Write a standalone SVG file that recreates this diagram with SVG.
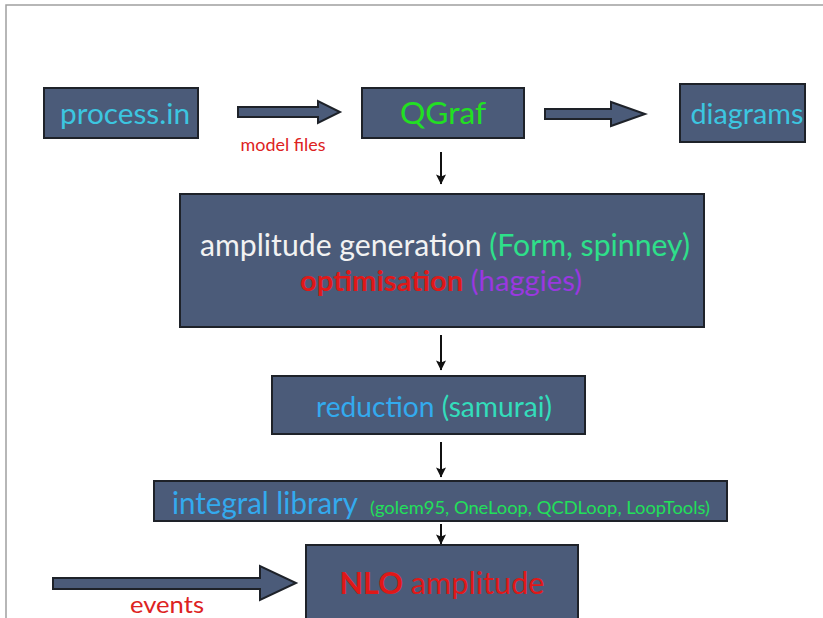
<svg xmlns="http://www.w3.org/2000/svg" width="823" height="618" viewBox="0 0 823 618">
<defs>
<style>
.box{fill:#4b5b79;stroke:#1e2229;stroke-width:2}
.blk{fill:#4b5b79;stroke:#1e2229;stroke-width:2;stroke-linejoin:miter}
.t{font-family:Lato,"Open Sans","DejaVu Sans",sans-serif}
.thin{stroke:#111;stroke-width:2;fill:none}
</style>
<marker id="ah" viewBox="0 0 10 10" refX="9.5" refY="5" markerWidth="11" markerHeight="10" orient="auto" markerUnits="userSpaceOnUse">
<path d="M0,0 L10,5 L0,10 L2,5 z" fill="#111"/>
</marker>
</defs>
<rect width="823" height="618" fill="#ffffff"/>
<path d="M6,618 V5 H823" fill="none" stroke="#a0a0a0" stroke-width="1.5"/>

<g id="connectors">
<path class="blk" d="M238,107 H318 V101 L340,112 L318,123 V117 H238 Z"/>
<text class="t" x="283" y="151" font-size="17" fill="#dd2222" text-anchor="middle" textLength="85" lengthAdjust="spacingAndGlyphs">model files</text>
<path class="blk" d="M545,109 H611 V102 L645,114 L611,126 V119 H545 Z"/>
<line class="thin" x1="441" y1="152" x2="441" y2="184" marker-end="url(#ah)"/>
<line class="thin" x1="441" y1="335" x2="441" y2="370" marker-end="url(#ah)"/>
<line class="thin" x1="441" y1="442" x2="441" y2="477" marker-end="url(#ah)"/>
<line class="thin" x1="441" y1="524" x2="441" y2="544" marker-end="url(#ah)"/>
<path class="blk" d="M53,578 H260 V566 L296,583 L260,600 V589 H53 Z"/>
<text class="t" x="167" y="613" font-size="24" fill="#dd2222" text-anchor="middle" textLength="74" lengthAdjust="spacingAndGlyphs">events</text>
</g>

<g id="process">
<rect class="box" x="44" y="88" width="154" height="50"/>
<text class="t" x="125" y="124" font-size="29" fill="#3cc6e0" text-anchor="middle" textLength="130" lengthAdjust="spacingAndGlyphs">process.in</text>
</g>

<g id="qgraf">
<rect class="box" x="362" y="88" width="162" height="50"/>
<text class="t" x="443" y="124" font-size="31" fill="#22e022" text-anchor="middle" textLength="86" lengthAdjust="spacingAndGlyphs">QGraf</text>
</g>

<g id="diagrams">
<rect class="box" x="680" y="84" width="125" height="58"/>
<text class="t" x="747" y="124" font-size="28" fill="#3cc6e0" text-anchor="middle" textLength="113" lengthAdjust="spacingAndGlyphs">diagrams</text>
</g>

<g id="amplitude">
<rect class="box" x="180" y="194" width="524" height="133"/>
<text class="t" x="445" y="256" font-size="30" text-anchor="middle" textLength="490" lengthAdjust="spacingAndGlyphs"><tspan fill="#f2f2f2">amplitude generation </tspan><tspan fill="#2ee08a">(Form, spinney)</tspan></text>
<text class="t" x="441" y="291" font-size="29" text-anchor="middle" textLength="282" lengthAdjust="spacingAndGlyphs"><tspan fill="#e01818" font-weight="bold">optimisation</tspan><tspan fill="#9a38e0"> (haggies)</tspan></text>
</g>

<g id="reduction">
<rect class="box" x="272" y="376" width="313" height="58"/>
<text class="t" x="434" y="417" font-size="28" text-anchor="middle" textLength="236" lengthAdjust="spacingAndGlyphs"><tspan fill="#33aaee">reduction </tspan><tspan fill="#33ddbb">(samurai)</tspan></text>
</g>

<g id="integral">
<rect class="box" x="154" y="481" width="573" height="40"/>
<text class="t" x="172" y="514" font-size="30" fill="#33aaee" textLength="186" lengthAdjust="spacingAndGlyphs">integral library</text>
<text class="t" x="370" y="514" font-size="18" fill="#22e05a" textLength="340" lengthAdjust="spacingAndGlyphs">(golem95, OneLoop, QCDLoop, LoopTools)</text>
</g>

<g id="nlo">
<rect class="box" x="306" y="545" width="272" height="80"/>
<text class="t" x="442" y="594" font-size="31" text-anchor="middle" fill="#e01818" textLength="205" lengthAdjust="spacingAndGlyphs"><tspan font-weight="bold">NLO</tspan><tspan> amplitude</tspan></text>
</g>
</svg>
